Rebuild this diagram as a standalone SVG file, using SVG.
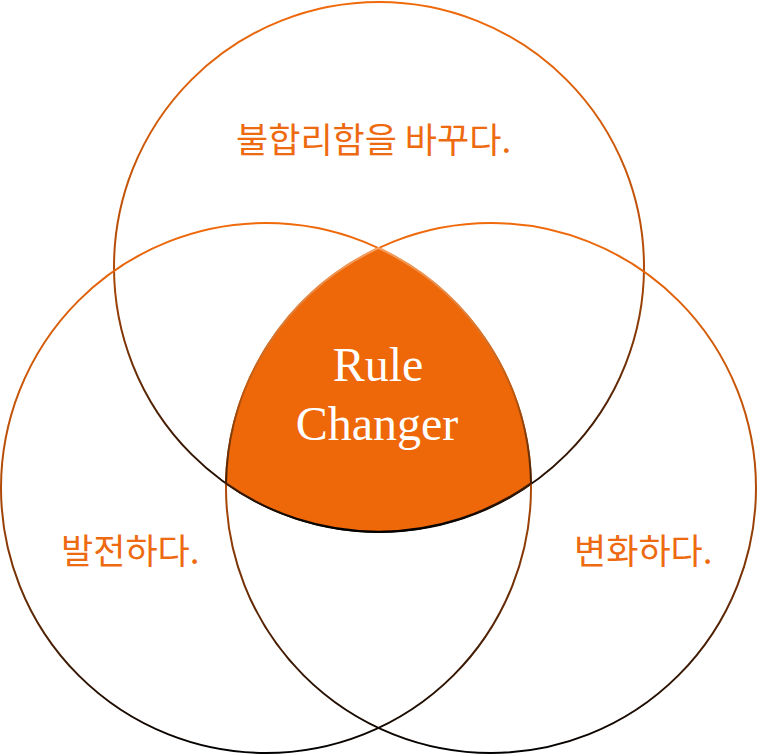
<svg xmlns="http://www.w3.org/2000/svg" width="758" height="755" viewBox="0 0 758 755">
<defs>
<linearGradient id="ring" x1="0" y1="0" x2="0" y2="1">
<stop offset="0" stop-color="#F06A0A"/>
<stop offset="0.5" stop-color="#B04A08"/>
<stop offset="1" stop-color="#000000"/>
</linearGradient>
<linearGradient id="coreLine" x1="0" y1="0" x2="0" y2="1">
<stop offset="0" stop-color="#F7A060"/>
<stop offset="0.5" stop-color="#C05A10"/>
<stop offset="1" stop-color="#000000"/>
</linearGradient>
</defs>
<style>
.ring{fill:none;stroke:url(#ring);stroke-width:2}
.lbl{font-family:"Noto Sans CJK KR","Noto Sans",sans-serif;font-size:35px;fill:#EE6A10}
.core{fill:#EE6708;stroke:url(#coreLine);stroke-width:2}
.coreText{font-family:"Liberation Serif","Times New Roman",serif;font-size:48px;fill:#FFFFFF;text-anchor:middle}
</style>
<g id="circle-top"><circle class="ring" cx="379" cy="267" r="265"/></g>
<g id="circle-left"><circle class="ring" cx="266" cy="488" r="265"/></g>
<g id="circle-right"><circle class="ring" cx="491" cy="488" r="265"/></g>
<g id="core">
<path class="core" d="M378.5 248 A265 265 0 0 0 226 483.4 A265 265 0 0 0 531 483.4 A265 265 0 0 0 378.5 248 Z"/>
<text class="coreText" x="378" y="381">Rule</text>
<text class="coreText" x="377" y="440">Changer</text>
</g>
<g id="label-top"><text class="lbl" x="236" y="153">불합리함을 바꾸다.</text></g>
<g id="label-left"><text class="lbl" x="61" y="564">발전하다.</text></g>
<g id="label-right"><text class="lbl" x="574" y="564">변화하다.</text></g>
</svg>
